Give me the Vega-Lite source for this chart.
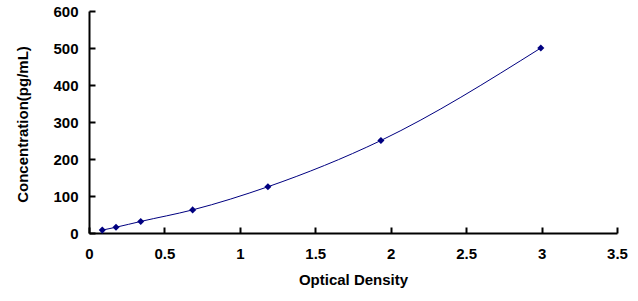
{
  "$schema": "https://vega.github.io/schema/vega-lite/v6.json",
  "width": 528,
  "height": 222,
  "autosize": {"type": "none"},
  "padding": {"left": 89, "top": 11, "right": 21, "bottom": 68},
  "background": "white",
  "config": {
    "view": {"stroke": null},
    "axis": {
      "grid": false,
      "domainColor": "black",
      "domainWidth": 2,
      "tickColor": "black",
      "tickWidth": 2,
      "tickSize": -6,
      "labelFont": "Liberation Sans",
      "labelFontWeight": "bold",
      "labelFontSize": 15,
      "labelColor": "black",
      "titleFont": "Liberation Sans",
      "titleFontWeight": "bold",
      "titleFontSize": 15,
      "titleColor": "black"
    }
  },
  "data": {
    "values": [
      {"od": 0.088, "conc": 7.8},
      {"od": 0.179, "conc": 15.6},
      {"od": 0.343, "conc": 31.25},
      {"od": 0.687, "conc": 62.5},
      {"od": 1.186, "conc": 125},
      {"od": 1.935, "conc": 250},
      {"od": 2.995, "conc": 500}
    ]
  },
  "encoding": {
    "x": {
      "field": "od", "type": "quantitative",
      "scale": {"domain": [0, 3.5], "nice": false},
      "axis": {"title": "Optical Density", "values": [0, 0.5, 1, 1.5, 2, 2.5, 3, 3.5], "format": "~g", "labelPadding": 19, "titlePadding": 11, "labelFlush": false}
    },
    "y": {
      "field": "conc", "type": "quantitative",
      "scale": {"domain": [0, 600], "nice": false},
      "axis": {"title": "Concentration(pg/mL)", "values": [0, 100, 200, 300, 400, 500, 600], "labelPadding": 17, "titlePadding": 22, "titleY": 113, "labelFlush": false}
    }
  },
  "layer": [
    {"mark": {"type": "line", "color": "#000080", "strokeWidth": 1, "interpolate": "monotone"}},
    {"mark": {"type": "point", "shape": "diamond", "filled": true, "color": "#000080", "size": 50, "opacity": 1}}
  ]
}
